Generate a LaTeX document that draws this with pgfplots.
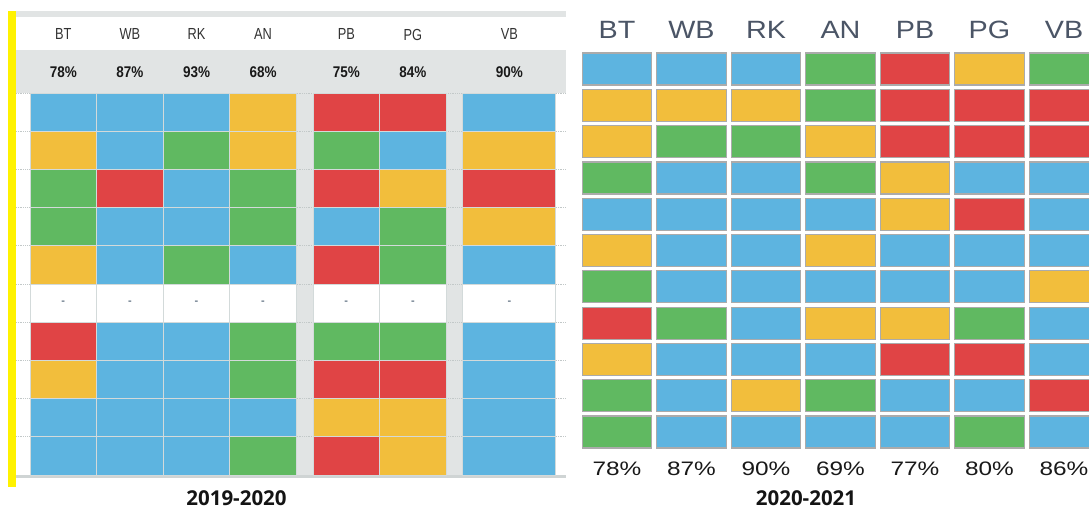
\documentclass[border=0pt]{standalone}
\usepackage{pgfplots}
\pgfplotsset{compat=1.18}
\usepackage{pgfplotstable}
\usepackage{fontspec}
\setmainfont{Liberation Sans}
\newfontfamily\opensans{Open Sans}
\definecolor{cB}{HTML}{5DB4E0}
\definecolor{cO}{HTML}{F2BE3C}
\definecolor{cG}{HTML}{60B961}
\definecolor{cR}{HTML}{E04445}
\definecolor{bandgray}{HTML}{E1E4E4}
\definecolor{lineL}{HTML}{D3DADA}
\definecolor{lineB}{HTML}{CFD4D4}
\definecolor{lineR}{HTML}{ABABAB}
\definecolor{hdrR}{HTML}{4B5566}
\definecolor{hdrL}{HTML}{333333}
\definecolor{dashc}{HTML}{6A7A8A}

% 2019-2020: b=blue, o=orange, g=green, r=red, n=no data
\pgfplotstableread{
row BT WB RK AN PB PG VB
1  b b b o r r b
2  o b g o g b o
3  g r b g r o r
4  g b b g b g o
5  o b g b r g b
6  n n n n n n n
7  r b b g g g b
8  o b b g r r b
9  b b b b o o b
10 b b b g r o b
}\lefttab

% 2020-2021
\pgfplotstableread{
row BT WB RK AN PB PG VB
1  b b b g r o g
2  o o o g r r r
3  o g g o r r r
4  g b b g o b b
5  b b b b o r b
6  o b b o b b b
7  g b b b b b o
8  r g b o o g b
9  o b b b r r b
10 g b o g b b r
11 g b b b b g b
}\righttab

\pgfplotsset{
  cellL/.style={scatter, only marks, mark=square*, mark size=19.1pt,
    scatter src=explicit symbolic,
    mark options={xscale=#1, line width=0.9pt},
    scatter/classes={b={fill=cB,draw=lineL}, o={fill=cO,draw=lineL},
      g={fill=cG,draw=lineL}, r={fill=cR,draw=lineL}, n={fill=white,draw=lineL}}},
  cellR/.style={scatter, only marks, mark=square*, mark size=16pt,
    scatter src=explicit symbolic,
    mark options={xscale=2.17, line width=1.2pt},
    scatter/classes={b={fill=cB,draw=lineR}, o={fill=cO,draw=lineR},
      g={fill=cG,draw=lineR}, r={fill=cR,draw=lineR}}},
}

\begin{document}
\begin{tikzpicture}
\useasboundingbox (0pt,0pt) rectangle (1089pt,-510pt);
\fill[white] (0pt,0pt) rectangle (1089pt,-510pt);
\begin{scope}[x=1pt,y=1pt]
  \fill[yellow] (7.5,-11) rectangle (15.5,-487);
  \fill[bandgray] (16,-11) rectangle (566,-17.3);
  \fill[bandgray] (16,-50) rectangle (566,-93);
  \fill[bandgray] (297,-93) rectangle (313,-475);
  \fill[bandgray] (446,-93) rectangle (463,-475);
  \foreach \k in {0,...,10} {
    \draw[lineL!80!gray, densely dotted, line width=0.8] (16,{-93-38.2*\k}) -- (566,{-93-38.2*\k});
  }
  \fill[lineB] (16,-475) rectangle (566,-478);
\end{scope}

% ---- left panel: 2019-2020
\begin{axis}[at={(30pt,-93pt)}, anchor=north west, scale only axis,
  width=526pt, height=382pt, xmin=-0.5, xmax=7.4, ymin=0.5, ymax=10.5,
  y dir=reverse, hide axis, clip=false]
  \addplot[cellL=1.743] table[x expr=0, y=row, meta=BT] {\lefttab};
  \addplot[cellL=1.743] table[x expr=1, y=row, meta=WB] {\lefttab};
  \addplot[cellL=1.743] table[x expr=2, y=row, meta=RK] {\lefttab};
  \addplot[cellL=1.743] table[x expr=3, y=row, meta=AN] {\lefttab};
  \addplot[cellL=1.743] table[x expr=4.25, y=row, meta=PB] {\lefttab};
  \addplot[cellL=1.743] table[x expr=5.25, y=row, meta=PG] {\lefttab};
  \addplot[cellL=2.435] table[x expr=6.7, y=row, meta=VB] {\lefttab};
\end{axis}

% ---- right panel: 2020-2021
\begin{axis}[at={(579.75pt,-50.85pt)}, anchor=north west, scale only axis,
  width=521.5pt, height=399.3pt, xmin=-0.5, xmax=6.5, ymin=0.5, ymax=11.5,
  y dir=reverse, hide axis, clip=false]
  \addplot[cellR] table[x expr=0, y=row, meta=BT] {\righttab};
  \addplot[cellR] table[x expr=1, y=row, meta=WB] {\righttab};
  \addplot[cellR] table[x expr=2, y=row, meta=RK] {\righttab};
  \addplot[cellR] table[x expr=3, y=row, meta=AN] {\righttab};
  \addplot[cellR] table[x expr=4, y=row, meta=PB] {\righttab};
  \addplot[cellR] table[x expr=5, y=row, meta=PG] {\righttab};
  \addplot[cellR] table[x expr=6, y=row, meta=VB] {\righttab};
\end{axis}

\begin{scope}[x=1pt,y=1pt]
  % left headers
  \foreach \xp/\lab/\pc in {63.3/BT/78, 129.9/WB/87, 196.5/RK/93, 263.0/AN/68, 346.3/PB/75, 412.9/PG/84, 509.4/VB/90} {
    \node[text=hdrL, font=\fontsize{16}{16}\selectfont] at (\xp,-34.5) {\scalebox{0.8}[1]{\lab}};
    \node[text=black!90, font=\bfseries\fontsize{15.5}{16}\selectfont] at (\xp,-72) {\scalebox{0.87}[1]{\pc\%}};
    \node[text=dashc, font=\bfseries\fontsize{11}{11}\selectfont] at (\xp,-303.1) {-};
  }
  % right headers and percentages
  \foreach \i/\lab/\pc in {0/BT/78, 1/WB/87, 2/RK/90, 3/AN/69, 4/PB/77, 5/PG/80, 6/VB/86} {
    \pgfmathsetmacro{\xp}{617+74.5*\i}
    \node[text=hdrR, font=\fontsize{25}{26}\selectfont] at (\xp,-30) {\scalebox{1.15}[1]{\lab}};
    \node[text=black!90, font=\fontsize{19.5}{20}\selectfont] at (\xp,-468.7) {\scalebox{1.25}[1]{\pc\%}};
  }
  % titles
  \node[anchor=base, inner sep=0pt, font=\opensans\bfseries\fontsize{20.5}{21}\selectfont, text=black!92] at (236.5,-505) {2019-2020};
  \node[anchor=base, inner sep=0pt, font=\opensans\bfseries\fontsize{20.5}{21}\selectfont, text=black!92] at (806,-505) {2020-2021};
\end{scope}
\end{tikzpicture}
\end{document}
